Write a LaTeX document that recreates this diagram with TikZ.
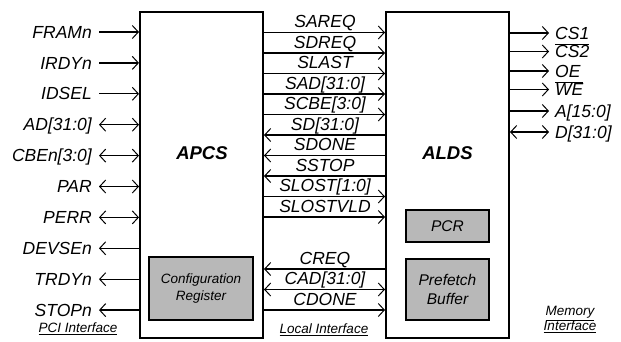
\documentclass[tikz,border=0pt]{standalone}
\usepackage{fontspec}
\setmainfont{Liberation Sans}
\usetikzlibrary{arrows.meta}
\tikzset{
  barb/.tip={Straight Barb[length=6pt,width=13pt,line width=1pt]},
  tor/.style={-barb},
  tol/.style={barb-},
  tob/.style={barb-barb}
}
\begin{document}
\begin{tikzpicture}[x=1pt,y=-1pt,
  sigfont/.style={font=\fontsize{17.5}{20}\selectfont\itshape},
  lbl/.style={sigfont, inner sep=0pt, text height=12.2pt, text depth=0pt},
  midlbl/.style={sigfont, inner sep=0pt, text height=13pt, text depth=4.5pt, anchor=south},
  block/.style={draw, line width=2pt, minimum width=123pt, minimum height=326pt, inner sep=0pt},
  subbox/.style={draw, line width=1.3pt, fill=black!28, inner sep=0pt, align=center},
  sig/.style={line width=1.3pt},
  iface/.style={font=\fontsize{13.5}{15}\selectfont\itshape, align=center, inner sep=0pt}]
\useasboundingbox (0,0) rectangle (621,341);

% main blocks
\node[block] (apcs) at (201.5,175) {};
\node[block] (alds) at (447.5,175) {};
\node[font=\fontsize{18.5}{20}\selectfont\bfseries\itshape] (apcsname) at (202,153) {APCS};
\node[font=\fontsize{18.5}{20}\selectfont\bfseries\itshape] (aldsname) at (447.5,153) {ALDS};

% inner boxes
\node[subbox, minimum width=104pt, minimum height=63pt, font=\fontsize{13.5}{17}\selectfont\itshape] (cfg) at (201,288.5) {Configuration\\Register};
\node[subbox, minimum width=83pt, minimum height=32pt, font=\fontsize{15.5}{18}\selectfont\itshape] (pcr) at (447.5,226) {PCR};
\node[subbox, minimum width=83pt, minimum height=61pt, font=\fontsize{15.5}{19}\selectfont\itshape] (pfb) at (447.5,289.5) {Prefetch\\Buffer};

% PCI side
\node[lbl, anchor=east] (fram) at (92,32) {FRAMn};
\node[lbl, anchor=east] (irdy) at (92,62.9) {IRDYn};
\node[lbl, anchor=east] (idsel) at (92,93.8) {IDSEL};
\node[lbl, anchor=east] (ad) at (92,124.7) {AD[31:0]};
\node[lbl, anchor=east] (cbe) at (92,155.6) {CBEn[3:0]};
\node[lbl, anchor=east] (par) at (92,186.5) {PAR};
\node[lbl, anchor=east] (perr) at (92,217.4) {PERR};
\node[lbl, anchor=east] (devse) at (92,248.3) {DEVSEn};
\node[lbl, anchor=east] (trdy) at (92,279.2) {TRDYn};
\node[lbl, anchor=east] (stop) at (92,310.1) {STOPn};

\draw[sig,tor] ([xshift=7pt]fram.east) -- (apcs.west |- fram.east);
\draw[sig,tor] ([xshift=7pt]irdy.east) -- (apcs.west |- irdy.east);
\draw[sig,tor] ([xshift=7pt]idsel.east) -- (apcs.west |- idsel.east);
\draw[sig,tob] ([xshift=7pt]ad.east) -- (apcs.west |- ad.east);
\draw[sig,tob] ([xshift=7pt]cbe.east) -- (apcs.west |- cbe.east);
\draw[sig,tob] ([xshift=7pt]par.east) -- (apcs.west |- par.east);
\draw[sig,tob] ([xshift=7pt]perr.east) -- (apcs.west |- perr.east);
\draw[sig,tol] ([xshift=7pt]devse.east) -- (apcs.west |- devse.east);
\draw[sig,tol] ([xshift=7pt]trdy.east) -- (apcs.west |- trdy.east);
\draw[sig,tol] ([xshift=7pt]stop.east) -- (apcs.west |- stop.east);

\node[iface] (pci) at (78,329) {\underline{PCI Interface}};

% local interface
\node[midlbl] (sareq) at (325,32.5) {SAREQ};
\node[midlbl] (sdreq) at (325,53) {SDREQ};
\node[midlbl] (slast) at (325,73.5) {SLAST};
\node[midlbl] (sad) at (325,94) {SAD[31:0]};
\node[midlbl] (scbe) at (325,114.5) {SCBE[3:0]};
\node[midlbl] (sd) at (325,135) {SD[31:0]};
\node[midlbl] (sdone) at (325,155.5) {SDONE};
\node[midlbl] (sstop) at (325,176) {SSTOP};
\node[midlbl] (slost) at (325,196.5) {SLOST[1:0]};
\node[midlbl] (slostvld) at (325,217) {SLOSTVLD};
\node[midlbl] (creq) at (325,269) {CREQ};
\node[midlbl] (cad) at (325,289.5) {CAD[31:0]};
\node[midlbl] (cdone) at (325,310) {CDONE};

\draw[sig,tor] (apcs.east |- sareq.south) -- (alds.west |- sareq.south);
\draw[sig,tor] (apcs.east |- sdreq.south) -- (alds.west |- sdreq.south);
\draw[sig,tor] (apcs.east |- slast.south) -- (alds.west |- slast.south);
\draw[sig,tor] (apcs.east |- sad.south) -- (alds.west |- sad.south);
\draw[sig,tor] (apcs.east |- scbe.south) -- (alds.west |- scbe.south);
\draw[sig,tol] (apcs.east |- sd.south) -- (alds.west |- sd.south);
\draw[sig,tol] (apcs.east |- sdone.south) -- (alds.west |- sdone.south);
\draw[sig,tol] (apcs.east |- sstop.south) -- (alds.west |- sstop.south);
\draw[sig,tor] (apcs.east |- slost.south) -- (alds.west |- slost.south);
\draw[sig,tor] (apcs.east |- slostvld.south) -- (alds.west |- slostvld.south);
\draw[sig,tol] (apcs.east |- creq.south) -- (alds.west |- creq.south);
\draw[sig,tob] (apcs.east |- cad.south) -- (alds.west |- cad.south);
\draw[sig,tor] (apcs.east |- cdone.south) -- (alds.west |- cdone.south);

\node[iface] (local) at (324,330) {\underline{Local Interface}};

% memory side
\node[lbl, anchor=west] (cs1) at (555,33) {CS1};
\node[lbl, anchor=west] (cs2) at (555,51.5) {$\overline{\mbox{\itshape CS2}}$};
\node[lbl, anchor=west] (oe) at (555,71) {OE};
\node[lbl, anchor=west] (we) at (555,89.5) {$\overline{\mbox{\itshape WE}}$};
\node[lbl, anchor=west] (addr) at (555,111) {A[15:0]};
\node[lbl, anchor=west] (data) at (555,132) {D[31:0]};

\draw[sig,tor] (alds.east |- cs1.west) -- ([xshift=-6pt]cs1.west);
\draw[sig,tor] (alds.east |- cs2.west) -- ([xshift=-6pt]cs2.west);
\draw[sig,tor] (alds.east |- oe.west) -- ([xshift=-6pt]oe.west);
\draw[sig,tor] (alds.east |- we.west) -- ([xshift=-6pt]we.west);
\draw[sig,tor] (alds.east |- addr.west) -- ([xshift=-6pt]addr.west);
\draw[sig,tob] (alds.east |- data.west) -- ([xshift=-6pt]data.west);

\node[iface] (mem) at (570,319.5) {\underline{Memory}\\\underline{Interface}};
\end{tikzpicture}
\end{document}
